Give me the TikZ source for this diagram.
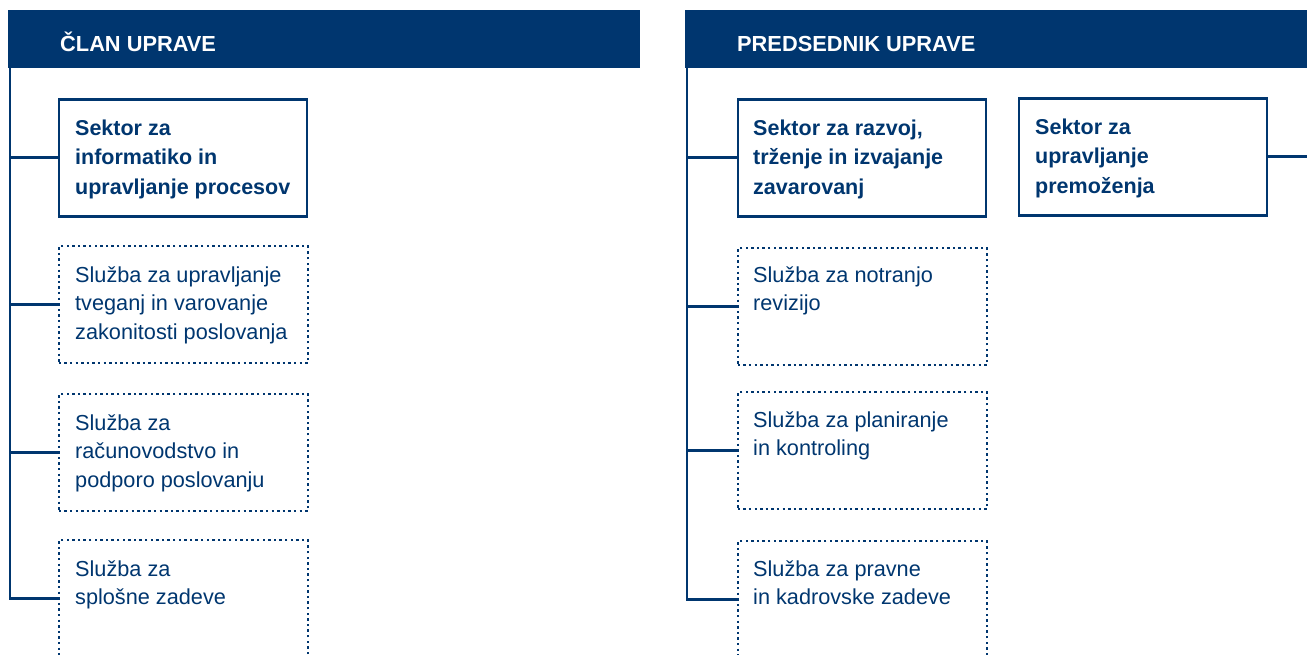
\documentclass[tikz,border=0pt]{standalone}
\usepackage{fontspec}
\setmainfont{Liberation Sans}
\definecolor{navy}{RGB}{0,54,111}
\begin{document}
\begin{tikzpicture}[x=1pt,y=-1pt,
  hdr/.style={fill=navy,draw=none,anchor=north west,minimum height=58pt,inner sep=0pt},
  hdrtxt/.style={anchor=base west,text=white,font=\fontsize{21.8}{26}\selectfont\bfseries,inner sep=0pt},
  solidbox/.style={draw=navy,line width=2.6pt,anchor=north west,minimum width=248pt,minimum height=117pt,inner sep=0pt},
  dotbox/.style={draw=navy,line width=2.4pt,dash pattern=on 2.4pt off 3.2pt,anchor=north west,minimum width=249pt,minimum height=117pt,inner sep=0pt},
  btxt/.style={anchor=north west,align=left,inner sep=0pt,text=navy,font=\fontsize{21.5}{29.5}\selectfont\bfseries},
  rtxt/.style={anchor=north west,align=left,inner sep=0pt,text=navy,font=\fontsize{21.7}{28.5}\selectfont},
  conn/.style={draw=navy,line width=2.6pt}
]
\useasboundingbox (0,0) rectangle (1307,655);
\newcommand{\fl}{\rule{0pt}{16pt}}
% headers
\node[hdr,minimum width=632pt] (hL) at (8,10) {};
\node[hdrtxt] (hLt) at (60,51.5) {ČLAN UPRAVE};
\node[hdr,minimum width=623pt] (hR) at (685,10) {};
\node[hdrtxt] (hRt) at (737,51.5) {PREDSEDNIK UPRAVE};
% left column
\node[solidbox] (l1) at (57.5,98) {};
\node[btxt] (l1t) at (75,119) {\fl Sektor za\\informatiko in\\upravljanje procesov};
\node[dotbox] (l2) at (57.5,245) {};
\node[rtxt] (l2t) at (75,266) {\fl Služba za upravljanje\\tveganj in varovanje\\zakonitosti poslovanja};
\node[dotbox] (l3) at (57.5,393) {};
\node[rtxt] (l3t) at (75,414) {\fl Služba za\\računovodstvo in\\podporo poslovanju};
\node[dotbox] (l4) at (57.5,539) {};
\node[rtxt] (l4t) at (75,560) {\fl Služba za\\splošne zadeve};
% right column
\node[solidbox] (r1) at (736.5,98) {};
\node[btxt] (r1t) at (753,119) {\fl Sektor za razvoj,\\trženje in izvajanje\\zavarovanj};
\node[solidbox] (r2) at (1017.5,97) {};
\node[btxt] (r2t) at (1035,118) {\fl Sektor za\\upravljanje\\premoženja};
\node[dotbox] (r2d) at (736.5,247) {};
\node[rtxt] (r2dt) at (753,266) {\fl Služba za notranjo\\revizijo};
\node[dotbox] (r3) at (736.5,391) {};
\node[rtxt] (r3t) at (753,411) {\fl Služba za planiranje\\in kontroling};
\node[dotbox] (r4) at (736.5,540) {};
\node[rtxt] (r4t) at (753,560) {\fl Služba za pravne\\in kadrovske zadeve};
% connectors
\coordinate (tL) at (10,68);
\draw[conn] (tL) |- (l4.west);
\draw[conn] (tL |- l1.west) -- (l1.west);
\draw[conn] (tL |- l2.west) -- (l2.west);
\draw[conn] (tL |- l3.west) -- (l3.west);
\coordinate (tR) at (687,68);
\draw[conn] (tR) |- (r4.west);
\draw[conn] (tR |- r1.west) -- (r1.west);
\draw[conn] (tR |- r2d.west) -- (r2d.west);
\draw[conn] (tR |- r3.west) -- (r3.west);
\coordinate (edgeR) at (1308,0);
\draw[conn] (r2.east) -- (edgeR |- r2.east);
\end{tikzpicture}
\end{document}
